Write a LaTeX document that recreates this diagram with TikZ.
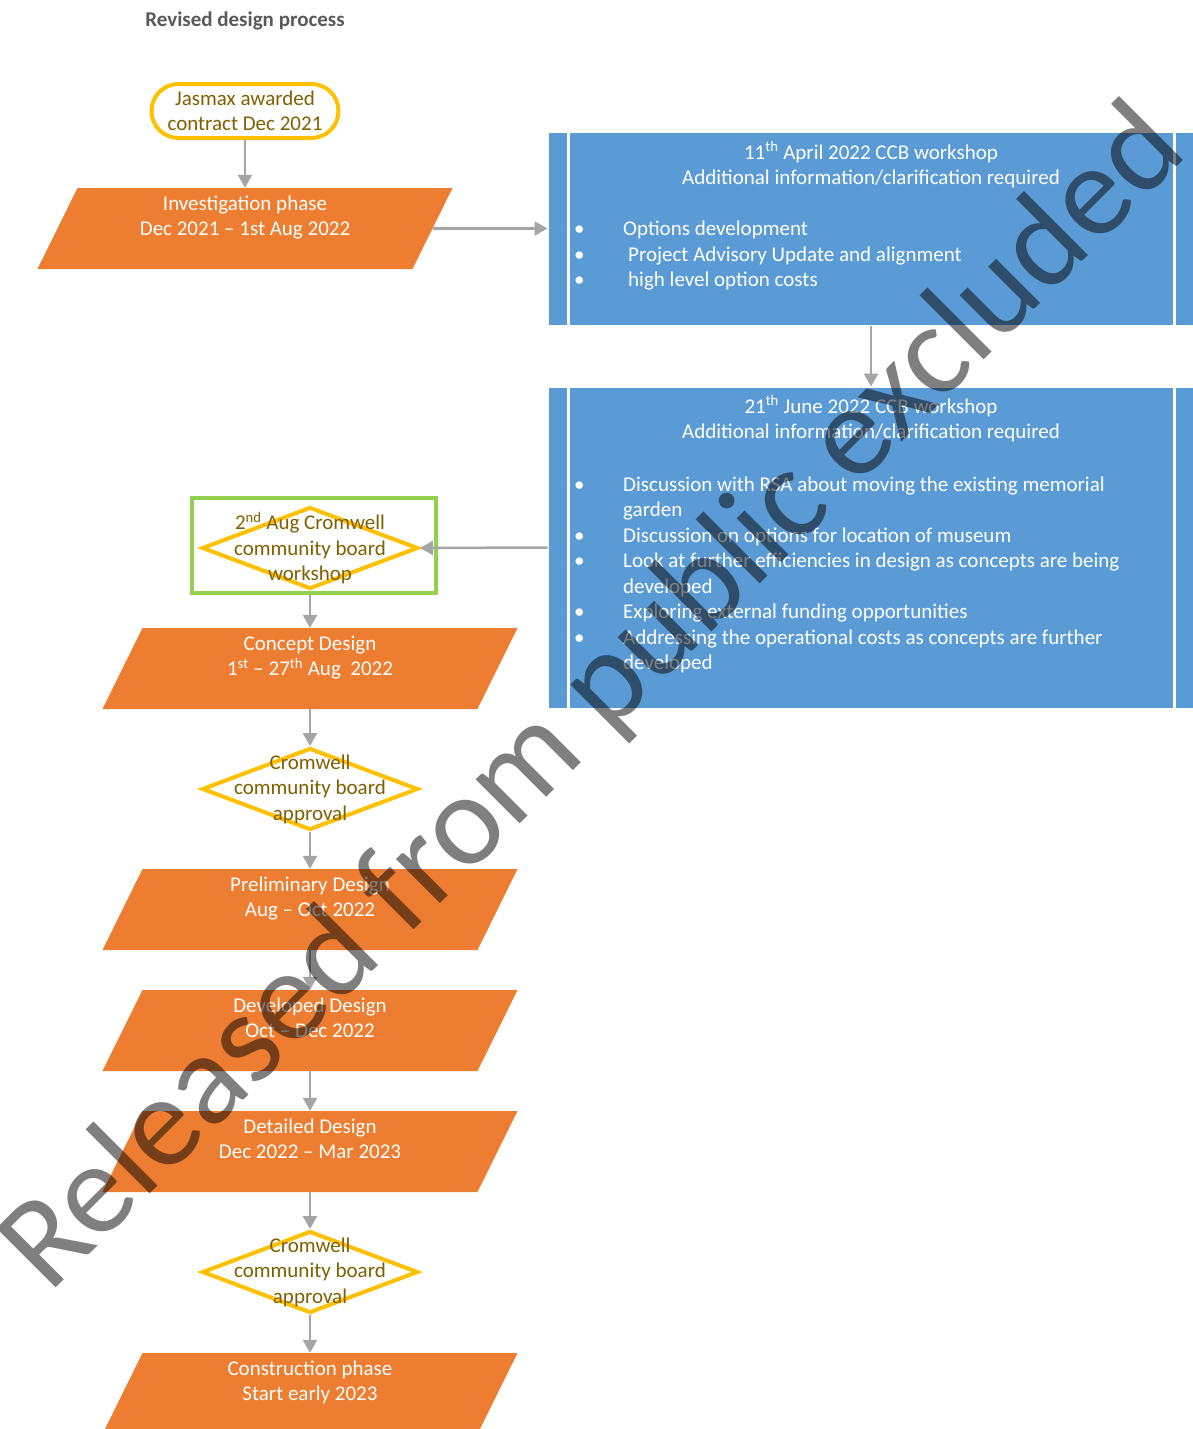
\documentclass[tikz,border=0pt]{standalone}
\usepackage{fontspec}
\setmainfont{Carlito}
\usetikzlibrary{shapes.geometric,arrows.meta}

\definecolor{phaseorange}{HTML}{ED7D31}
\definecolor{wsblue}{HTML}{5B9BD5}
\definecolor{boardyellow}{HTML}{FFC000}
\definecolor{boardtext}{HTML}{7F6000}
\definecolor{framegreen}{HTML}{92D050}
\definecolor{flowgray}{HTML}{A5A5A5}
\definecolor{titlegray}{HTML}{595959}

\newcommand{\flowfont}{\fontsize{21}{25.5}\selectfont}

\begin{document}
\begin{tikzpicture}[x=1pt,y=-1pt,
	phase/.style={rectangle,minimum width=415pt,minimum height=81pt,inner sep=2pt,align=center,text=white,font=\flowfont,
		path picture={\fill[phaseorange] ([xshift=40pt]path picture bounding box.north west) -- (path picture bounding box.north east)
			-- ([xshift=-40pt]path picture bounding box.south east) -- (path picture bounding box.south west) -- cycle;}},
	workshop/.style={rectangle,fill=wsblue,draw=white,line width=1pt,minimum width=646pt},
	wstext/.style={align=center,text=white,font=\flowfont,inner sep=0pt},
	wslist/.style={align=left,text=white,font=\flowfont,inner sep=0pt,anchor=west},
	board/.style={diamond,draw=boardyellow,line width=4pt,fill=white,minimum width=216pt,minimum height=82pt,inner sep=0pt},
	boardlabel/.style={align=center,text=boardtext,font=\flowfont,inner sep=0pt},
	flow/.style={draw=flowgray,line width=2.5pt,-{Triangle[length=13pt,width=14pt]}}]
	\useasboundingbox (0,0) rectangle (1192,1429);

	\node[font=\flowfont\bfseries,text=titlegray] (title) at (245,21) {Revised design process};

	\node[rectangle,rounded corners=27pt,draw=boardyellow,line width=4pt,minimum width=187pt,minimum height=54pt,inner sep=0pt,
		align=center,text=boardtext,font=\flowfont] (jasmax) at (245,111) {Jasmax awarded\\contract Dec 2021};
	\node[phase] (invest) at (245,228.5) {Investigation phase\\Dec 2021 -- 1st Aug 2022\\\mbox{}};

	\node[workshop,minimum height=193pt] (aprilws) at (871,228.5) {};
	\draw[white,line width=2.5pt] ([xshift=21pt]aprilws.north west) -- ([xshift=21pt]aprilws.south west);
	\draw[white,line width=2.5pt] ([xshift=-20pt]aprilws.north east) -- ([xshift=-20pt]aprilws.south east);
	\node[wstext] (aprilhead) at (871,165) {11\textsuperscript{th} April 2022 CCB workshop\\Additional information/clarification required};
	\node[wslist] (aprillist) at (574,256) {\makebox[49pt][l]{•}Options development\\
		\makebox[49pt][l]{•}\hspace{5pt}Project Advisory Update and alignment\\
		\makebox[49pt][l]{•}\hspace{5pt}high level option costs};

	\node[workshop,minimum height=321pt] (junews) at (871,547.5) {};
	\draw[white,line width=2.5pt] ([xshift=21pt]junews.north west) -- ([xshift=21pt]junews.south west);
	\draw[white,line width=2.5pt] ([xshift=-20pt]junews.north east) -- ([xshift=-20pt]junews.south east);
	\node[wstext] (junehead) at (871,419) {21\textsuperscript{th} June 2022 CCB workshop\\Additional information/clarification required};
	\node[wslist] (junelist) at (574,575) {\makebox[49pt][l]{•}Discussion with RSA about moving the existing memorial\\
		\hspace*{49pt}garden\\
		\makebox[49pt][l]{•}Discussion on options for location of museum\\
		\makebox[49pt][l]{•}Look at further efficiencies in design as concepts are being\\
		\hspace*{49pt}developed\\
		\makebox[49pt][l]{•}Exploring external funding opportunities\\
		\makebox[49pt][l]{•}Addressing the operational costs as concepts are further\\
		\hspace*{49pt}developed};

	\node[rectangle,draw=framegreen,line width=4pt,minimum width=244pt,minimum height=95pt] (augframe) at (314,545.5) {};
	\node[board] (augboard) at (310,548) {};
	\node[boardlabel] (augtext) at (310,548) {2\textsuperscript{nd} Aug Cromwell\\community board\\workshop};

	\node[phase] (concept) at (310,668.5) {Concept Design\\1\textsuperscript{st} -- 27\textsuperscript{th} Aug~ 2022\\\mbox{}};
	\node[board] (approve1) at (310,789) {};
	\node[boardlabel] (approve1text) at (310,789) {Cromwell\\community board\\approval};
	\node[phase] (prelim) at (310,909.5) {Preliminary Design\\Aug -- Oct 2022\\\mbox{}};
	\node[phase] (developed) at (310,1030.5) {Developed Design\\Oct -- Dec 2022\\\mbox{}};
	\node[phase] (detailed) at (310,1151.5) {Detailed Design\\Dec 2022 -- Mar 2023\\\mbox{}};
	\node[board] (approve2) at (310,1272) {};
	\node[boardlabel] (approve2text) at (310,1272) {Cromwell\\community board\\approval};
	\node[phase] (construct) at (310,1393.5) {Construction phase\\Start early 2023\\\mbox{}};

	\draw[flow] (jasmax.south) -- (invest.north);
	\draw[flow] ([xshift=-20pt]invest.east) -- (aprilws.west);
	\draw[flow] (aprilws.south) -- (junews.north);
	\draw[flow] (junews.west) -- (augboard.east);
	\draw[flow] (augframe.south -| augboard.south) -- (concept.north);
	\draw[flow] (concept.south) -- (approve1.north);
	\draw[flow] (approve1.south) -- (prelim.north);
	\draw[flow] (prelim.south) -- (developed.north);
	\draw[flow] (developed.south) -- (detailed.north);
	\draw[flow] (detailed.south) -- (approve2.north);
	\draw[flow] (approve2.south) -- (construct.north);

	\node[rotate=45,anchor=base west,inner sep=0pt,text=black,text opacity=0.5,
		font=\fontsize{130.5}{150}\selectfont] (stamp) at (49,1295) {Released from public excluded};
\end{tikzpicture}
\end{document}
